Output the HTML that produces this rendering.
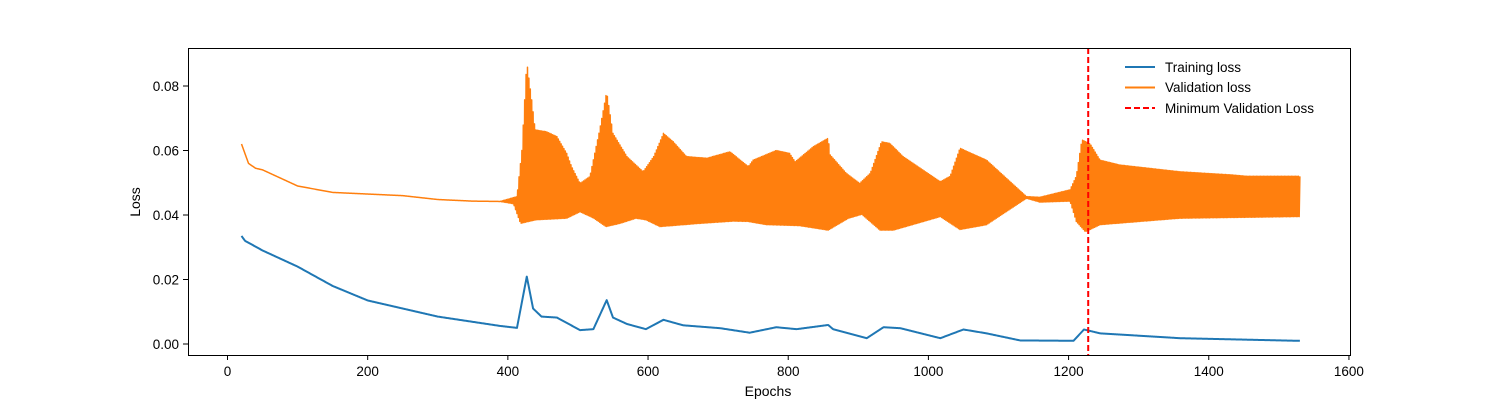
<!DOCTYPE html>
<html><head><meta charset="utf-8"><style>
body{margin:0;background:#fff}
svg{font-family:"Liberation Sans","DejaVu Sans",sans-serif}
</style></head><body>
<svg id="chart" width="1500" height="400">
<rect x="0" y="0" width="1500" height="400" fill="#fff"/>
<g id="plot"></g>
<rect x="188.5" y="48.5" width="1162" height="307" fill="none" stroke="#000" stroke-width="1"/>
<g id="ticks"></g>
<text x="768" y="396" text-anchor="middle" font-size="14">Epochs</text>
<text transform="translate(140,202) rotate(-90)" text-anchor="middle" font-size="14">Loss</text>
<g>
<g><line x1="1125" y1="67" x2="1155" y2="67" stroke="#1f77b4" stroke-width="2"/><text x="1165" y="72" font-size="13.5">Training loss</text></g>
<g><line x1="1125" y1="87.5" x2="1155" y2="87.5" stroke="#ff7f0e" stroke-width="2"/><text x="1165" y="92" font-size="13.5">Validation loss</text></g>
<g><line x1="1125" y1="108" x2="1155" y2="108" stroke="#ff0000" stroke-width="2" stroke-dasharray="6,3"/><text x="1165" y="113" font-size="13.5">Minimum Validation Loss</text></g>
</g>
</svg>
<script>
const valUpperEpochs=[20,25,30,40,50,100,150,200,250,300,350,389,413,420,427,434,439,455,470,484,491,503,517,531,541,550,570,593,608,622,636,655,684,717,743,750,783,802,810,836,857,860,883,902,917,933,945,964,1017,1031,1045,1083,1140,1159,1202,1211,1219,1231,1245,1273,1359,1435,1454,1525,1530];
const valUpper=[0.062,0.059,0.056,0.0545,0.054,0.049,0.047,0.0465,0.046,0.0448,0.0443,0.0442,0.0457,0.060,0.0875,0.0757,0.0664,0.0658,0.0643,0.0591,0.055,0.0498,0.0519,0.0664,0.0782,0.0653,0.0581,0.0534,0.0581,0.0653,0.0627,0.0581,0.0576,0.0596,0.055,0.057,0.060,0.0591,0.0565,0.0612,0.0638,0.0586,0.0529,0.0498,0.0529,0.0627,0.0622,0.0581,0.0503,0.052,0.0607,0.057,0.0457,0.0455,0.0478,0.052,0.0633,0.062,0.057,0.0555,0.0534,0.0524,0.052,0.052,0.052];
const valLowerEpochs=[20,25,30,40,50,100,150,200,250,300,350,389,408,418,440,484,503,522,540,560,583,597,617,674,722,743,769,816,857,886,905,931,950,1017,1045,1083,1140,1159,1202,1211,1224,1245,1359,1525,1530];
const valLower=[0.062,0.059,0.056,0.0545,0.054,0.049,0.047,0.0465,0.046,0.0448,0.0443,0.0442,0.0435,0.0374,0.0385,0.039,0.041,0.0391,0.0364,0.0374,0.039,0.0385,0.0364,0.0374,0.0381,0.038,0.037,0.0367,0.0353,0.039,0.0402,0.0353,0.0353,0.0395,0.0355,0.037,0.0452,0.044,0.0443,0.038,0.0348,0.037,0.039,0.0395,0.0395];
const trainEpochs=[20,25,50,100,150,200,300,389,413,427,436,448,470,503,522,541,550,570,597,622,650,703,745,783,812,857,864,912,936,960,1017,1050,1083,1131,1207,1222,1245,1359,1525,1530];
const trainLoss=[0.0335,0.032,0.029,0.024,0.018,0.0135,0.0085,0.0056,0.005,0.0209,0.011,0.0085,0.0082,0.0043,0.0046,0.0136,0.0082,0.0062,0.0046,0.0075,0.0058,0.0049,0.0035,0.0052,0.0046,0.0059,0.0046,0.0018,0.0052,0.0049,0.0018,0.0045,0.0033,0.0011,0.001,0.0045,0.0033,0.0018,0.001,0.001];
const minEpoch=1228;
const xTicks=[0,200,400,600,800,1000,1200,1400,1600];
const yTicks=[0,0.02,0.04,0.06,0.08];

const X=e=>227.5+e*0.7009;
const Y=v=>344-v*3225;
const NS="http://www.w3.org/2000/svg";
function interp(xs,ys,x){for(let i=0;i<xs.length-1;i++){if(x<=xs[i+1]){const t=(x-xs[i])/(xs[i+1]-xs[i]);return ys[i]+t*(ys[i+1]-ys[i]);}}return ys[ys.length-1];}
const plot=document.getElementById('plot');
let d='';
for(let e=20;e<=1530;e++){
  const v=(e%2===0)?interp(valUpperEpochs,valUpper,e):interp(valLowerEpochs,valLower,e);
  d+=(d?'L':'M')+X(e).toFixed(2)+','+Y(v).toFixed(2);
}
const vp=document.createElementNS(NS,'path');
vp.setAttribute('d',d);vp.setAttribute('fill','none');vp.setAttribute('stroke','#ff7f0e');vp.setAttribute('stroke-width','1.5');vp.setAttribute('stroke-linejoin','round');


plot.appendChild(vp);
let d2='';
for(let e=trainEpochs[0];e<=trainEpochs[trainEpochs.length-1];e++){
  const v=interp(trainEpochs,trainLoss,e);
  d2+=(d2?'L':'M')+X(e).toFixed(2)+','+Y(v).toFixed(2);
}
const tp=document.createElementNS(NS,'path');
tp.setAttribute('d',d2);tp.setAttribute('fill','none');tp.setAttribute('stroke','#1f77b4');tp.setAttribute('stroke-width','2');tp.setAttribute('stroke-linejoin','round');


plot.appendChild(tp);
const ml=document.createElementNS(NS,'line');
ml.setAttribute('x1',X(minEpoch));ml.setAttribute('x2',X(minEpoch));ml.setAttribute('y1',48);ml.setAttribute('y2',355);
ml.setAttribute('stroke','#ff0000');ml.setAttribute('stroke-width','2');ml.setAttribute('stroke-dasharray','6,3');


plot.appendChild(ml);
const tg=document.getElementById('ticks');
xTicks.forEach(t=>{
  const l=document.createElementNS(NS,'line');
  l.setAttribute('x1',X(t));l.setAttribute('x2',X(t));l.setAttribute('y1',355);l.setAttribute('y2',360);l.setAttribute('stroke','#000');
  
  
  tg.appendChild(l);
  const tx=document.createElementNS(NS,'text');
  tx.setAttribute('x',X(t));tx.setAttribute('y',376);tx.setAttribute('text-anchor','middle');tx.setAttribute('font-size','13.5');
  tx.textContent=t;
  
  
  tg.appendChild(tx);
});
yTicks.forEach(t=>{
  const l=document.createElementNS(NS,'line');
  l.setAttribute('x1',183);l.setAttribute('x2',188);l.setAttribute('y1',Y(t));l.setAttribute('y2',Y(t));l.setAttribute('stroke','#000');
  
  
  tg.appendChild(l);
  const tx=document.createElementNS(NS,'text');
  tx.setAttribute('x',179);tx.setAttribute('y',Y(t)+5);tx.setAttribute('text-anchor','end');tx.setAttribute('font-size','13.5');
  tx.textContent=t.toFixed(2);
  
  
  tg.appendChild(tx);
});
</script>
</body></html>
